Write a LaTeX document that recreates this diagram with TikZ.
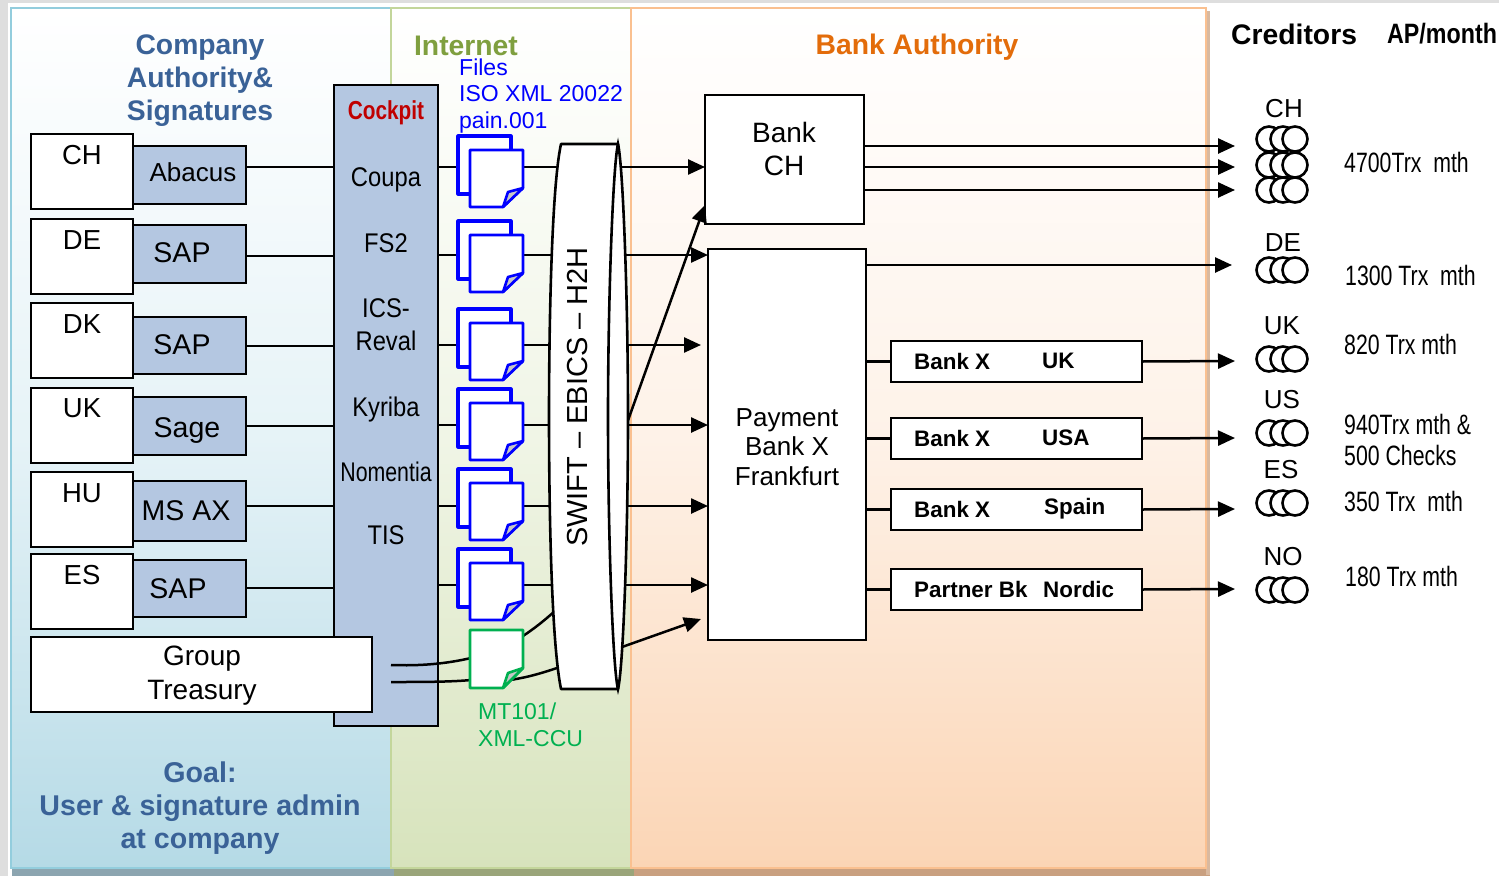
\documentclass[tikz,border=0pt]{standalone}
\usepackage{fontspec}
\usepackage{graphicx}
\setmainfont{Liberation Sans}
\usetikzlibrary{arrows.meta,calc}
\definecolor{headblue}{HTML}{3A6297}
\definecolor{sysfill}{HTML}{B4C7E1}
\definecolor{netgreen}{HTML}{7F9F3F}
\definecolor{bankor}{HTML}{E36C0A}
\definecolor{cockred}{HTML}{C00000}
\definecolor{fileblue}{HTML}{0000FF}
\definecolor{filegreen}{HTML}{00B050}
\definecolor{bordblue}{HTML}{93CDDD}
\definecolor{bordgreen}{HTML}{C3D69B}
\definecolor{bordor}{HTML}{FAC090}
\definecolor{midblue}{HTML}{E6F3F7}
\definecolor{botblue}{HTML}{B5DAE6}
\definecolor{midgreen}{HTML}{F0F5E6}
\definecolor{botgreen}{HTML}{D7E3BC}
\definecolor{midor}{HTML}{FEF2E8}
\definecolor{botor}{HTML}{FBD5B5}
\definecolor{shblue}{HTML}{8CA5B0}
\definecolor{shgreen}{HTML}{9AA57A}
\definecolor{shor}{HTML}{C9A080}
\definecolor{shright}{HTML}{D8B9A0}
\newcommand{\nrw}[2]{\scalebox{#1}[1]{#2}}
\tikzset{
  panelbox/.style={anchor=north west,inner sep=0pt,outer sep=0pt,line width=2.6pt,draw},
  flat/.style={anchor=north west,inner sep=0pt,outer sep=0pt},
  whitebox/.style={anchor=north west,draw=black,fill=white,line width=2.8pt,inner sep=0pt,outer sep=0pt},
  sysbox/.style={anchor=north west,draw=black,fill=sysfill,line width=2.8pt,inner sep=0pt,outer sep=0pt},
  txt/.style={inner sep=0pt,align=center,text=black},
  ltxt/.style={inner sep=0pt,align=left,anchor=west,text=black},
  conn/.style={draw=black,line width=2.5pt},
  arr/.style={draw=black,line width=2.5pt,-{Triangle[length=17pt,width=15pt]}},
  cred/.style={circle,draw=black,fill=white,line width=2.6pt,minimum size=25pt,inner sep=0pt,outer sep=0pt},
  filepen/.style={fill=white,line width=2.6pt,line join=round},
}
\begin{document}
\begin{tikzpicture}[x=1pt,y=-1pt]
\useasboundingbox (0,0) rectangle (1499,876);
% page edge
\node[flat,fill=black!13,minimum width=8pt,minimum height=876pt] (edgeL) at (0,0) {};
\node[flat,fill=black!13,minimum width=1499pt,minimum height=3pt] (edgeT) at (0,0) {};
% shadows
\node[flat,fill=shblue,minimum width=382pt,minimum height=7pt] (shadowB) at (12,869) {};
\node[flat,fill=shgreen,minimum width=240pt,minimum height=7pt] (shadowG) at (394,869) {};
\node[flat,fill=shor,minimum width=576pt,minimum height=7pt] (shadowO) at (634,869) {};
\node[flat,fill=shright,minimum width=4pt,minimum height=864pt] (shadowR) at (1206,11) {};
% panels
\node[panelbox,draw=bordblue,top color=white,bottom color=botblue,middle color=midblue,minimum width=380pt,minimum height=860pt] (pblue) at (11,8) {};
\node[panelbox,draw=bordgreen,top color=white,bottom color=botgreen,middle color=midgreen,minimum width=240pt,minimum height=860pt] (pgreen) at (391,8) {};
\node[panelbox,draw=bordor,top color=white,bottom color=botor,middle color=midor,minimum width=575pt,minimum height=860pt] (porange) at (631,8) {};
% headings
\node[txt,text=headblue,font=\bfseries\fontsize{28.3}{33}\selectfont] (hco) at (200,81) {Company\\Authority\&\\Signatures};
\node[txt,text=netgreen,font=\bfseries\fontsize{28.3}{33}\selectfont] (hnet) at (466,46) {Internet};
\node[txt,text=bankor,font=\bfseries\fontsize{28.3}{33}\selectfont] (hbank) at (917,47) {Bank Authority};
\node[ltxt,font=\bfseries\fontsize{28.3}{33}\selectfont] (hcred) at (1231,34) {Creditors};
\node[ltxt,font=\bfseries\fontsize{28}{33}\selectfont] (hap) at (1387,34) {\nrw{.83}{AP/month}};
\node[txt,text=headblue,font=\bfseries\fontsize{28.6}{33}\selectfont] (hgoal) at (200,808) {Goal:\\User \& signature admin\\at company};
\node[ltxt,text=fileblue,font=\fontsize{23}{26.5}\selectfont] (hfiles) at (459,96) {Files\\ISO XML 20022\\pain.001};
% row coordinates
\coordinate (r1) at (0,167);
\coordinate (r2) at (0,255);
\coordinate (r3) at (0,345);
\coordinate (r4) at (0,425);
\coordinate (r5) at (0,506);
\coordinate (r6) at (0,585);
\coordinate (s1) at (0,167);
\coordinate (s2) at (0,256);
\coordinate (s3) at (0,346);
\coordinate (s4) at (0,426);
\coordinate (s5) at (0,506);
\coordinate (s6) at (0,588);
% cockpit
\node[sysbox,minimum width=104pt,minimum height=641pt] (cockpit) at (334,85) {};
\node[txt,text=cockred,font=\bfseries\fontsize{26}{30}\selectfont] (tcock) at (386,113) {\nrw{.8}{Cockpit}};
\foreach \nm/\yy/\sc/\lab in {a/180/.88/Coupa,b/243/.88/FS2,c/308/.88/ICS-,d/341/.88/Reval,e/410/.88/Kyriba,f/472/.79/Nomentia,g/535/.88/TIS}
  \node[txt,font=\fontsize{27}{30}\selectfont] (tc\nm) at (386,\yy) {\nrw{\sc}{\lab}};
% country + system boxes
\foreach \i/\by/\sy/\sh/\cn/\sn/\tx/\ty/\cy in {
  1/134/146/58/CH/Abacus/193/172/155,
  2/219/225/58/DE/SAP/182/253/240,
  3/303/317/57/DK/SAP/182/345/324,
  4/388/397/58/UK/Sage/187/430/408,
  5/472/481/60/HU/MS AX/186/511/493,
  6/554/560/57/ES/SAP/178/589/575}{
  \node[whitebox,minimum width=102pt,minimum height=75pt] (cb\i) at (31,\by) {};
  \node[sysbox,minimum width=113pt,minimum height=\sh pt] (sb\i) at (133,\sy) {};
  \node[txt,font=\fontsize{27.5}{30}\selectfont] (cl\i) at (82,\cy) {\cn};
  \node[txt,font=\fontsize{\ifnum\i=1 26\else 28.5\fi}{30}\selectfont] (sl\i) at (\tx,\ty) {\sn};
  \draw[conn] (sb\i.east |- s\i) -- (cockpit.west |- s\i);
}
% cylinder frame node
\node[flat,minimum width=79pt,minimum height=545pt] (cyl) at (549,144) {};
% outgoing arrows and lines under the cylinder
\node[whitebox,minimum width=159pt,minimum height=129pt] (bankch) at (705,95) {};
\node[whitebox,minimum width=158pt,minimum height=391pt] (pay) at (708,249) {};
\node[txt,font=\fontsize{26}{29.5}\selectfont] (tpay) at (787,447) {Payment\\Bank X\\Frankfurt};
\node[txt,font=\fontsize{28}{33}\selectfont] (tbank) at (784,149) {Bank\\CH};
\draw[arr] (cyl.center |- r1) -- (bankch.west |- r1);
\draw[arr] (cyl.center |- r2) -- (pay.west |- r2);
\coordinate (gapend) at (701,345);
\draw[arr] (cyl.center |- r3) -- (gapend);
\draw[arr] (cyl.center |- r4) -- (pay.west |- r4);
\draw[arr] (cyl.center |- r5) -- (pay.west |- r5);
\draw[arr] (cyl.center |- r6) -- (pay.west |- r6);
% files
\foreach \i/\yy/\rr in {1/136/r1,2/221/r2,3/309/r3,4/389/r4,5/469/r5,6/549/r6}{
  \draw[conn] (cockpit.east |- \rr) -- (cyl.center |- \rr);
  \begin{scope}[shift={(0,\yy-136)}]
    \draw[fileblue,filepen,line width=3.2pt] (458,136) -- (511,136) -- (511,194) -- (458,194) -- cycle;
    \draw[fileblue,filepen] (470,150) -- (523,150) -- (523,188) -- (503,207) -- (470,207) -- cycle;
    \draw[fileblue,filepen,fill=black!22] (503,207) -- (508,192) -- (523,188) -- cycle;
  \end{scope}
}
% treasury lines and green file
\coordinate (gt1) at (391,665);
\coordinate (gt2) at (391,682);
\coordinate (gf1) at (471,658);
\coordinate (gf2) at (471,680);
\coordinate (gc1) at (523,636);
\coordinate (gc2) at (510,680);
\coordinate (cy1) at (556,610);
\coordinate (cy2) at (560,667);
\node[whitebox,minimum width=341pt,minimum height=75pt] (gt) at (31,637) {};
\node[txt,font=\fontsize{28}{34}\selectfont] (tgt) at (202,676) {Group\\Treasury};
\draw[conn] (gt1) .. controls (420,666) and (445,664) .. (gf1);
\draw[conn] (gt2) .. controls (420,682) and (450,682) .. (gf2);
\draw[conn] (gc1) .. controls (535,628) and (545,620) .. (cy1);
\draw[conn] (gc2) .. controls (530,677) and (545,672) .. (cy2);
\draw[filegreen,filepen] (470,630) -- (523,630) -- (523,668) -- (503,688) -- (470,688) -- cycle;
\draw[filegreen,filepen,fill=black!22] (503,688) -- (508,673) -- (523,668) -- cycle;
\node[ltxt,text=filegreen,font=\fontsize{23}{27}\selectfont] (tmt) at (478,725) {MT101/\\XML-CCU};
% cylinder
\coordinate (d1s) at (626,426);
\coordinate (d1e) at (705,205);
\coordinate (d2s) at (622,647);
\coordinate (d2e) at (701,619);
\draw[arr] (d1s) -- (d1e);
\draw[arr] (d2s) -- (d2e);
\draw[fill=white,line width=2.6pt,line join=round] (561,144) .. controls (551,190) and (549,340) .. (549,416) .. controls (549,500) and (551,640) .. (561,689) -- (618,689) -- (618,144) -- cycle;
\draw[fill=white,line width=2.6pt] (618,144) .. controls (613,165) and (608,300) .. (608,416) .. controls (608,540) and (613,670) .. (618,689) .. controls (623,670) and (628,540) .. (628,416) .. controls (628,300) and (623,165) .. (618,144) -- cycle;
\node[txt,rotate=90,font=\fontsize{29}{32}\selectfont] (tsw) at (578,397) {SWIFT – EBICS – H2H};
% creditor arrows
\coordinate (end1) at (1235,146);
\coordinate (end2) at (1235,167);
\coordinate (end3) at (1235,190);
\coordinate (end4) at (1232,265);
\draw[arr] (bankch.east |- end1) -- (end1);
\draw[arr] (bankch.east |- end2) -- (end2);
\draw[arr] (bankch.east |- end3) -- (end3);
\draw[arr] (pay.east |- end4) -- (end4);
% regional banks
\foreach \i/\yy/\aa/\bb/\bx/\cyy in {
  1/341/Bank X/UK/1042/361,
  2/418/Bank X/USA/1042/438,
  3/489/Bank X/Spain/1044/509,
  4/569/Partner Bk/Nordic/1043/589}{
  \node[whitebox,minimum width=251pt,minimum height=41pt] (rb\i) at (891,\yy) {};
  \node[ltxt,font=\bfseries\fontsize{22.4}{26}\selectfont] (ra\i) at (914,\cyy) {\aa};
  \node[ltxt,font=\bfseries\fontsize{22.4}{26}\selectfont] (rc\i) at (\bx,\cyy) {\bb};
  \coordinate (re\i) at (1235,\cyy);
  \draw[conn] (pay.east |- rb\i.east) -- (rb\i.west);
  \draw[arr] (rb\i.east) -- (re\i);
}
% creditor circles
\foreach \nm/\yy in {ca/139,cc/190,cb/165,de/270,uk/359,us/433,es/503,no/590}{
  \node[cred] (\nm1) at (1269,\yy) {};
  \node[cred] (\nm2) at (1283,\yy) {};
  \node[cred] (\nm3) at (1295,\yy) {};
}
\foreach \nm/\xx/\yy/\lab in {a/1284/109/CH,b/1283/243/DE,c/1282/326/UK,d/1282/400/US,e/1281/470/ES,f/1283/557/NO}
  \node[txt,font=\fontsize{26}{30}\selectfont] (lb\nm) at (\xx,\yy) {\lab};
\foreach \nm/\xx/\yy/\lab in {a/1344/162/{4700Trx\ \ mth},b/1345/275/{1300 Trx\ \ mth},c/1344/344/{820 Trx mth},d/1344/424/{940Trx mth \&},e/1344/455/{500 Checks},f/1344/501/{350 Trx\ \ mth},g/1345/576/{180 Trx mth}}
  \node[ltxt,font=\fontsize{28}{30}\selectfont] (am\nm) at (\xx,\yy) {\nrw{.76}{\lab}};
\end{tikzpicture}
\end{document}
